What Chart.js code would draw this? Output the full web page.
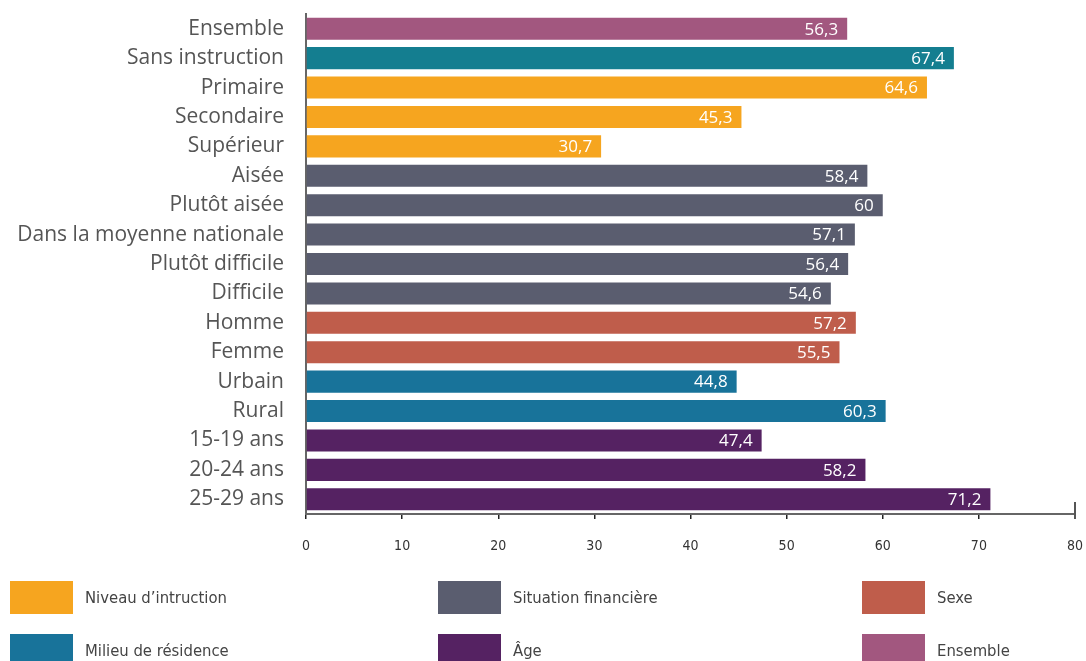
<!DOCTYPE html>
<html>
<head>
<meta charset="utf-8">
<script src="https://cdn.jsdelivr.net/npm/chart.js@4/dist/chart.umd.min.js"></script>
<style>
  html, body { margin:0; padding:0; background:#fff; }
  #wrap { position:relative; width:1086px; height:661px; overflow:hidden; }
  #c { position:absolute; left:0; top:0; }
  .lg { position:absolute; display:flex; align-items:center; font-family:"Liberation Sans Narrow","DejaVu Sans Condensed","Open Sans",sans-serif; font-size:16.5px; color:#444; }
  .lg span.box { display:inline-block; width:63px; height:33px; margin-right:12px; }
</style>
</head>
<body>
<div id="wrap">
  <canvas id="c" width="1086" height="661"></canvas>
</div>
<script>
const categories = ["Ensemble","Sans instruction","Primaire","Secondaire","Supérieur","Aisée","Plutôt aisée","Dans la moyenne nationale","Plutôt difficile","Difficile","Homme","Femme","Urbain","Rural","15-19 ans","20-24 ans","25-29 ans"];
const values = [56.3,67.4,64.6,45.3,30.7,58.4,60,57.1,56.4,54.6,57.2,55.5,44.8,60.3,47.4,58.2,71.2];
const valueLabels = ["56,3","67,4","64,6","45,3","30,7","58,4","60","57,1","56,4","54,6","57,2","55,5","44,8","60,3","47,4","58,2","71,2"];
const groups = ["Ensemble","Sans","Niveau","Niveau","Niveau","Situation","Situation","Situation","Situation","Situation","Sexe","Sexe","Milieu","Milieu","Age","Age","Age"];
const xTicks = [0,10,20,30,40,50,60,70,80];
const legendNames = ["Niveau d’intruction","Situation financière","Sexe","Milieu de résidence","Âge","Ensemble"];
const legendKeys = ["Niveau","Situation","Sexe","Milieu","Age","Ensemble"];

const groupColors = {
  Ensemble:"#a2577f", Sans:"#147e90", Niveau:"#f6a51f", Situation:"#5a5d6f",
  Sexe:"#bf5d4b", Milieu:"#18739a", Age:"#552262"
};

// HTML legend
const legendPos = [[10,581],[438,581],[862,581],[10,634],[438,634],[862,634]];
const wrap = document.getElementById('wrap');
legendNames.forEach((n,i)=>{
  const d = document.createElement('div');
  d.className='lg';
  d.style.left = legendPos[i][0]+'px';
  d.style.top = legendPos[i][1]+'px';
  const b = document.createElement('span');
  b.className='box';
  b.style.background = groupColors[legendKeys[i]];
  d.appendChild(b);
  d.appendChild(document.createTextNode(n));
  wrap.appendChild(d);
});

const valuePlugin = {
  id:'valueLabels',
  afterDatasetsDraw(chart){
    const ctx = chart.ctx;
    const meta = chart.getDatasetMeta(0);
    ctx.save();
    ctx.font = '17px "Open Sans", "Noto Sans", sans-serif';
    ctx.fillStyle = '#fff';
    ctx.textAlign = 'right';
    ctx.textBaseline = 'middle';
    meta.data.forEach((bar,i)=>{
      ctx.fillText(valueLabels[i], bar.x - 9, bar.y + 1);
    });
    ctx.restore();
  }
};

const endTickPlugin = {
  id:'endTick',
  afterDraw(chart){
    const ctx = chart.ctx;
    const xs = chart.scales.x;
    const x = xs.getPixelForValue(80);
    const y = chart.chartArea.bottom;
    ctx.save();
    ctx.strokeStyle = '#555';
    ctx.lineWidth = 2;
    ctx.beginPath();
    ctx.moveTo(x, y - 12);
    ctx.lineTo(x, y + 5);
    ctx.stroke();
    ctx.restore();
  }
};

new Chart(document.getElementById('c'), {
  type:'bar',
  data:{
    labels:categories,
    datasets:[{
      data:values,
      backgroundColor:groups.map(g=>groupColors[g]),
      categoryPercentage:0.75,
      barPercentage:1.0
    }]
  },
  options:{
    indexAxis:'y',
    responsive:false,
    animation:false,
    devicePixelRatio:1,
    layout:{padding:{left:0,right:11,top:14,bottom:0}},
    plugins:{legend:{display:false}, tooltip:{enabled:false}},
    scales:{
      x:{
        min:0, max:80,
        afterBuildTicks(s){ s.ticks = xTicks.map(v=>({value:v})); },
        afterFit(s){ s.height = 147; s.paddingLeft = 0; s.paddingRight = 0; },
        grid:{display:true, drawOnChartArea:false, drawTicks:true, tickLength:5, color:'#222', lineWidth:1.5},
        border:{display:true, color:'#666', width:2},
        ticks:{
          padding:19,
          color:'#333',
          font:{family:'"Liberation Sans Narrow","DejaVu Sans Condensed",sans-serif', size:14},
          maxRotation:0
        }
      },
      y:{
        afterFit(s){ s.width = 306; s.paddingTop = 0; s.paddingBottom = 0; },
        grid:{display:false, drawTicks:false},
        border:{display:true, color:'#666', width:2},
        ticks:{
          padding:22,
          color:'#555',
          font:{family:'"Open Sans","Noto Sans",sans-serif', size:21},
          autoSkip:false
        }
      }
    }
  },
  plugins:[valuePlugin,endTickPlugin]
});
</script>
</body>
</html>
